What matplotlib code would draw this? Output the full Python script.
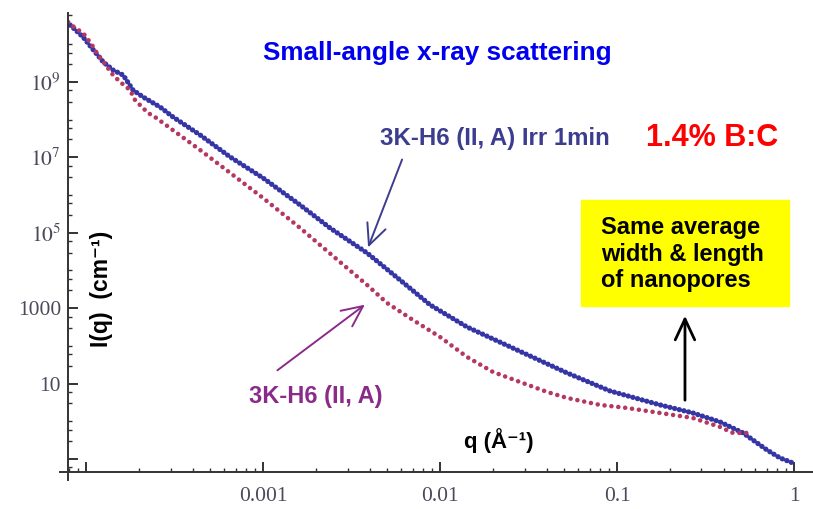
import numpy as np
import matplotlib
matplotlib.use("Agg")
import matplotlib.pyplot as plt
from matplotlib.ticker import LogLocator, FixedLocator, FuncFormatter, NullFormatter
from matplotlib.patches import Rectangle

plt.rcParams['font.family'] = ['Liberation Sans', 'DejaVu Sans']
plt.rcParams['mathtext.fontset'] = 'stix'

# SAXS curves: q (1/A), I(q) (1/cm)
q_irr = [8.13e-5, 9.62e-5, 1.10e-4, 1.25e-4, 1.42e-4, 1.62e-4, 1.84e-4, 2.10e-4,
         2.62e-4, 3.10e-4, 4.41e-4, 6.51e-4, 1.0e-3, 1.62e-3, 2.39e-3, 3.87e-3,
         5.94e-3, 8.79e-3, 1.42e-2, 2.72e-2, 5.22e-2, 9.12e-2, 0.175, 0.268,
         0.382, 0.515, 0.703, 0.834, 0.986]
I_irr = [3.25e10, 1.56e10, 7.06e9, 3.40e9, 2.08e9, 1.53e9, 6.14e8, 4.00e8,
         2.17e8, 1.18e8, 3.93e7, 1.03e7, 2.84e6, 5.46e5, 1.34e5, 2.91e4,
         5.60e3, 1.22e3, 317, 77.8, 19.1, 6.37, 2.71, 1.66,
         0.957, 0.49, 0.173, 0.106, 0.078]

q_ref = [7.91e-5, 8.67e-5, 9.62e-5, 1.08e-4, 1.15e-4, 1.42e-4, 1.56e-4, 1.77e-4,
         1.89e-4, 2.07e-4, 2.24e-4, 2.45e-4, 4.41e-4, 1.0e-3, 1.62e-3, 2.72e-3,
         3.87e-3, 5.02e-3, 7.03e-3, 1.0e-2, 1.42e-2, 1.99e-2, 2.83e-2, 4.03e-2,
         5.22e-2, 8.02e-2, 0.114, 0.175, 0.268, 0.382, 0.452, 0.564]
I_ref = [3.91e10, 2.71e10, 2.0e10, 9.58e9, 5.88e9, 1.53e9, 1.0e9, 6.14e8,
         3.33e8, 2.17e8, 1.51e8, 1.18e8, 1.57e7, 8.38e5, 1.34e5, 1.68e4,
         4.12e3, 1.37e3, 486, 172, 50.8, 20.3, 11.0, 5.98,
         4.15, 2.71, 2.25, 1.66, 1.22, 0.706, 0.49, 0.49]

x_ticks = [1e-4, 1e-3, 1e-2, 1e-1, 1]
x_labels = ['', '0.001', '0.01', '0.1', '1']
y_ticks = [1e-1, 1e1, 1e3, 1e5, 1e7, 1e9]
y_labels = ['', '10', '1000', '$10^{5}$', '$10^{7}$', '$10^{9}$']

W, H = 813, 509
fig = plt.figure(figsize=(W / 100, H / 100), dpi=100)
ax = fig.add_axes([68 / W, 1 - 472 / H, (W - 68) / W, (472 - 13) / H])

ax.plot(q_irr, I_irr, color='#3535a5', lw=3.8, ls=(0, (0.01, 0.9)),
        dash_capstyle='round')
ax.plot(q_ref, I_ref, color='#b5385f', lw=3.3, ls=(0, (0.01, 1.5)),
        dash_capstyle='round')

ax.set_xscale('log')
ax.set_yscale('log')
ax.set_xlim(7.9e-5, 1.28)
ax.set_ylim(0.045, 6.8e10)

for s in ax.spines.values():
    s.set_visible(False)
# axes lines crossing like the original
ax.plot([-0.011, 1], [0, 0], transform=ax.transAxes, color='#333333', lw=1.4, clip_on=False)
ax.plot([0, 0], [-0.018, 1], transform=ax.transAxes, color='#333333', lw=1.4, clip_on=False)

tick_col = '#4a4a5a'
ax.xaxis.set_major_locator(FixedLocator(x_ticks))
ax.xaxis.set_major_formatter(FuncFormatter(lambda v, p: x_labels[x_ticks.index(v)] if v in x_ticks else ''))
ax.xaxis.set_minor_locator(LogLocator(base=10, subs=(2, 3, 4, 5, 6, 7, 8, 9), numticks=20))
ax.xaxis.set_minor_formatter(NullFormatter())
ax.yaxis.set_major_locator(FixedLocator(y_ticks))
ax.yaxis.set_major_formatter(FuncFormatter(lambda v, p: y_labels[p] if p is not None and p < len(y_labels) else ''))
ax.yaxis.set_minor_locator(LogLocator(base=10, subs=(1, 3, 6), numticks=30))
ax.yaxis.set_minor_formatter(NullFormatter())

ax.tick_params(which='major', direction='in', length=7, width=1.4, color='#333333',
               labelsize=15.5, labelcolor=tick_col)
ax.tick_params(which='minor', direction='in', length=3, width=1.0, color='#333333')
ax.tick_params(axis='x', which='major', pad=11)
ax.tick_params(axis='y', which='major', pad=5)
for lab in ax.get_xticklabels() + ax.get_yticklabels():
    lab.set_family('Liberation Serif')


def fx(px):
    return px / W


def fy(py):
    return 1 - py / H


fig.text(fx(437), fy(53), 'Small-angle x-ray scattering', color='#0000ee',
         fontsize=18.8, fontweight='bold', ha='center', va='center')
fig.text(fx(712), fy(138), '1.4% B:C', color='#ff0000',
         fontsize=22, fontweight='bold', ha='center', va='center')
fig.text(fx(495), fy(139), '3K-H6 (II, A) Irr 1min', color='#3d3d8f',
         fontsize=17.3, fontweight='bold', ha='center', va='center')
fig.text(fx(316), fy(397), '3K-H6 (II, A)', color='#8a2b8a',
         fontsize=17, fontweight='bold', ha='center', va='center')
fig.text(fx(101), fy(289), 'I(q)  (cm⁻¹)', color='black', rotation=90,
         fontsize=16.5, fontweight='bold', ha='center', va='center')
fig.text(fx(499), fy(441), 'q (Å⁻¹)', color='black',
         fontsize=16, fontweight='bold', ha='center', va='center')

fig.patches.append(Rectangle((fx(581), fy(306)), (789 - 581) / W, (306 - 200) / H,
                             transform=fig.transFigure, color='#ffff00', zorder=0))
fig.text(fx(601), fy(254), 'Same average\nwidth & length\nof nanopores', color='black',
         fontsize=17, fontweight='bold', ha='left', va='center', linespacing=1.2)

arrow_kw = dict(arrowstyle='->,head_length=0.75,head_width=0.35', mutation_scale=20)
ax.annotate('', xy=(3.87e-3, 3.5e4), xytext=(6.18e-3, 1.03e7),
            arrowprops=dict(color='#3d3d8f', lw=1.4, **arrow_kw))
ax.annotate('', xy=(3.87e-3, 1.37e3), xytext=(1.17e-3, 20.3),
            arrowprops=dict(color='#8a2b8a', lw=1.4, **arrow_kw))
ax.annotate('', xy=(0.242, 747), xytext=(0.242, 3.05),
            arrowprops=dict(color='black', lw=2.0, **arrow_kw))

fig.savefig('out.png', dpi=100)
